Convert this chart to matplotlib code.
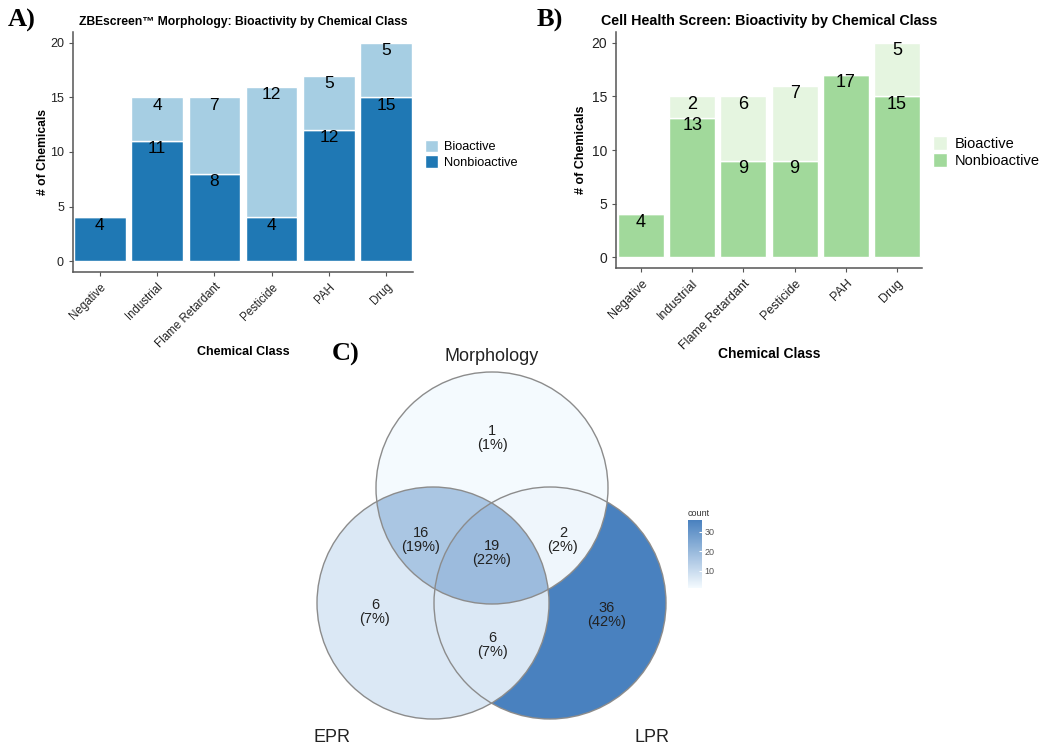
import numpy as np
import matplotlib
matplotlib.use("Agg")
import matplotlib.pyplot as plt
from matplotlib.colors import LinearSegmentedColormap, Normalize
from matplotlib.patches import Circle, Patch

plt.rcParams['font.family'] = ['Liberation Sans', 'DejaVu Sans']

# bar chart data
classes = ["Negative", "Industrial", "Flame Retardant", "Pesticide", "PAH", "Drug"]
morph_nonbio = [4, 11, 8, 4, 12, 15]
morph_bio = [0, 4, 7, 12, 5, 5]
cell_nonbio = [4, 13, 9, 9, 17, 15]
cell_bio = [0, 2, 6, 7, 0, 5]

# venn data
set_names = ["Morphology", "EPR", "LPR"]
# region key: (in Morphology, in EPR, in LPR)
region_keys = [(1, 0, 0), (0, 1, 0), (0, 0, 1), (1, 1, 0), (1, 0, 1), (0, 1, 1), (1, 1, 1)]
region_counts = [1, 6, 36, 16, 2, 6, 19]

W, H = 1050, 755
fig = plt.figure(figsize=(W / 100, H / 100), dpi=100)


def px_axes(x0, y0, x1, y1):
    return fig.add_axes([x0 / W, 1 - y1 / H, (x1 - x0) / W, (y1 - y0) / H])


def bar_panel(ax, nonbio, bio, c_non, c_bio, title, xlim, sz, ylab_x, xlab_y):
    x = np.arange(len(classes))
    ax.bar(x, nonbio, width=0.9, color=c_non, edgecolor='white', linewidth=1)
    ax.bar(x, bio, width=0.9, bottom=nonbio, color=c_bio, edgecolor='white', linewidth=1)
    for i in range(len(classes)):
        if nonbio[i] > 0:
            ax.annotate(str(nonbio[i]), (x[i], nonbio[i]), xytext=(0, -5.5), textcoords='offset points',
                        ha='center', va='center', fontsize=sz['num'], color='black')
        if bio[i] > 0:
            ax.annotate(str(bio[i]), (x[i], nonbio[i] + bio[i]), xytext=(0, -5.5), textcoords='offset points',
                        ha='center', va='center', fontsize=sz['num'], color='black')
    ax.set_xlim(*xlim)
    ax.set_ylim(-1, 21)
    ax.set_yticks([0, 5, 10, 15, 20])
    ax.set_xticks(x)
    ax.set_xticklabels(classes, rotation=45, ha='right', rotation_mode='anchor', fontsize=sz['xtick'], color='#222222')
    ax.tick_params(axis='y', labelsize=sz['ytick'], labelcolor='#222222')
    ax.tick_params(length=3, color='#555555', width=0.8)
    for s in ['top', 'right']:
        ax.spines[s].set_visible(False)
    for s in ['left', 'bottom']:
        ax.spines[s].set_color('#555555')
        ax.spines[s].set_linewidth(1.1)
    ax.set_title(title, fontsize=sz['title'], fontweight='bold', pad=5)
    ax.set_ylabel("# of Chemicals", fontsize=sz['ylab'], fontweight='bold')
    ax.set_xlabel("Chemical Class", fontsize=sz['xlab'], fontweight='bold')
    ax.yaxis.set_label_coords(ylab_x, 0.5)
    ax.xaxis.set_label_coords(0.5, xlab_y)
    handles = [Patch(facecolor=c_bio, edgecolor='white'), Patch(facecolor=c_non, edgecolor='white')]
    ax.legend(handles, ["Bioactive", "Nonbioactive"], loc='center left', bbox_to_anchor=(1.035, 0.49),
              frameon=False, fontsize=sz['legend'], handlelength=1.0, handleheight=1.1, handletextpad=0.5,
              labelspacing=0.15, borderpad=0, borderaxespad=0)


ax_a = px_axes(73, 32, 413, 272)
bar_panel(ax_a, morph_nonbio, morph_bio, '#1f78b4', '#a6cee3',
          "ZBEscreen\u2122 Morphology: Bioactivity by Chemical Class", (-0.47, 5.47),
          dict(num=12.5, xtick=8.3, ytick=9, title=8.7, ylab=8.7, xlab=9, legend=9.2),
          -0.07, -0.31)
ax_b = px_axes(616, 32, 922, 268)
bar_panel(ax_b, cell_nonbio, cell_bio, '#a1d99b', '#e5f5e0',
          "Cell Health Screen: Bioactivity by Chemical Class", (-0.49, 5.49),
          dict(num=13, xtick=9, ytick=10, title=10.3, ylab=9, xlab=10, legend=10.5),
          -0.095, -0.335)

fig.text(8 / W, 1 - 20 / H, "A)", fontsize=19, fontweight='bold', family='Liberation Serif', va='center')
fig.text(537 / W, 1 - 20 / H, "B)", fontsize=19, fontweight='bold', family='Liberation Serif', va='center')
fig.text(332 / W, 1 - 354 / H, "C)", fontsize=19, fontweight='bold', family='Liberation Serif', va='center')

# venn panel, axes units = figure pixels
ax_c = px_axes(300, 340, 760, 755)
ax_c.set_xlim(300, 760)
ax_c.set_ylim(755, 340)
ax_c.axis('off')
centers = [(492, 488), (433, 603), (550, 603)]
radius = 116

gx, gy = np.meshgrid(np.linspace(300, 760, 921), np.linspace(340, 755, 831))
inside = [((gx - cx) ** 2 + (gy - cy) ** 2) <= radius ** 2 for cx, cy in centers]
grid = np.full(gx.shape, np.nan)
for key, cnt in zip(region_keys, region_counts):
    m = np.ones(gx.shape, dtype=bool)
    for k, ins in zip(key, inside):
        m &= ins if k else ~ins
    grid[m] = cnt

cmap = LinearSegmentedColormap.from_list("venn", ["#F4FAFE", "#4981BF"])
norm = Normalize(vmin=min(region_counts), vmax=max(region_counts))
im = ax_c.imshow(np.ma.masked_invalid(grid), extent=(300, 760, 755, 340), origin='upper',
                 cmap=cmap, norm=norm, interpolation='nearest')
for cx, cy in centers:
    ax_c.add_patch(Circle((cx, cy), radius, fill=False, edgecolor='#8c8c8c', linewidth=1))

label_pos = [(492, 438), (375, 612), (607, 615), (421, 540), (563, 540), (492, 645), (492, 553)]
total = sum(region_counts)
for (lx, ly), cnt in zip(label_pos, region_counts):
    ax_c.text(lx, ly, f"{cnt}\n({cnt / total * 100:.0f}%)", ha='center', va='center',
              fontsize=10.5, color='#222222', linespacing=1.0)

set_label_pos = [(492, 357), (332, 738), (652, 738)]
for (lx, ly), name in zip(set_label_pos, set_names):
    ax_c.text(lx, ly, name, ha='center', va='center', fontsize=13, color='#222222')

cax = px_axes(688, 520, 702, 588)
cb = fig.colorbar(im, cax=cax, ticks=[10, 20, 30])
cb.outline.set_visible(False)
cax.tick_params(labelsize=6.5, labelcolor='#555555', length=2.5, color='white', direction='in', pad=2)
cax.set_title("count", fontsize=6.5, color='#333333', loc='left', pad=3)

fig.savefig("out.png", dpi=100)
